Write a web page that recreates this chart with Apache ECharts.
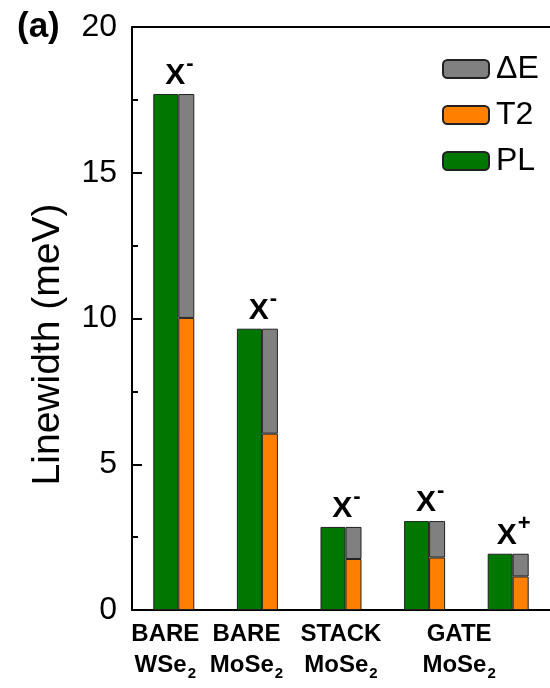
<!DOCTYPE html>
<html><head><meta charset="utf-8">
<script src="https://cdn.jsdelivr.net/npm/echarts@6/dist/echarts.min.js"></script>
<style>html,body{margin:0;padding:0;background:#fff}#c{width:550px;height:688px}</style>
</head><body><div id="c"></div>
<script>
// ---- data ----
const categories = ['BARE WSe2', 'BARE MoSe2', 'STACK MoSe2', 'GATE MoSe2 X-', 'GATE MoSe2 X+'];
const labelTop = ['BARE', 'BARE', 'STACK', 'GATE', ''];
const labelBase = ['WSe', 'MoSe', 'MoSe', 'MoSe', ''];
const labelSub = ['2', '2', '2', '2', ''];
const plValues = [17.7, 9.65, 2.85, 3.05, 1.93];
const t2Values = [10.02, 6.05, 1.75, 1.8, 1.15];
const deltaEValues = [7.68, 3.6, 1.1, 1.25, 0.78];
const chargeSigns = ['-', '-', '-', '-', '+'];
const yTickValues = [0, 5, 10, 15, 20];
const legendOrder = ['\u0394E', 'T2', 'PL'];

// ---- styles ----
const FONT = '"Liberation Sans", Arial, sans-serif';
const labelPads = [[0, 17, 0, 0], [0, 22, 0, 0], [0, 0, 0, 0], [0, 0, 0, 69], [0, 0, 0, 0]];
const chart = echarts.init(document.getElementById('c'), null, {renderer: 'canvas'});
const border = {borderColor: '#222', borderWidth: 1};
const yMin = yTickValues[0], yMax = yTickValues[yTickValues.length - 1];
const tickLine = {color: '#000', width: 2};
const hiddenX = {type: 'value', min: 0, max: 1, show: false};

chart.setOption({
  animation: false,
  backgroundColor: '#fff',
  textStyle: {fontFamily: FONT},
  title: {text: '(a)', left: 12, top: 5,
    textStyle: {fontFamily: FONT, fontSize: 35, fontWeight: 'bold', color: '#000'}},
  legend: {
    data: legendOrder, orient: 'vertical', left: 437, top: 48,
    itemWidth: 46, itemHeight: 18, itemGap: 14,
    textStyle: {fontFamily: FONT, fontSize: 32, color: '#000', padding: [0, 0, 0, 2]}
  },
  grid: [
    {left: 132, right: -7, top: 27, bottom: 78},
    // narrow strips along the left axis: their split lines act as inward ticks
    {left: 132, width: 10, top: 27, bottom: 78},
    {left: 132, width: 6, top: 27, bottom: 78}
  ],
  xAxis: [{
    type: 'category', gridIndex: 0,
    data: categories.map((c, i) => ({value: c, textStyle: {padding: labelPads[i]}})),
    axisLine: {lineStyle: {color: '#000', width: 2}},
    axisTick: {show: false},
    axisLabel: {
      interval: 0, margin: 9,
      formatter: (v, i) => labelTop[i] ? `{t|${labelTop[i]}}\n{b|${labelBase[i]}}{s|${labelSub[i]}}` : '',
      rich: {
        t: {fontFamily: FONT, fontSize: 24, fontWeight: 'bold', color: '#000', lineHeight: 31},
        b: {fontFamily: FONT, fontSize: 24, fontWeight: 'bold', color: '#000', lineHeight: 31},
        s: {fontFamily: FONT, fontSize: 15, fontWeight: 'bold', color: '#000', lineHeight: 31, verticalAlign: 'bottom', padding: [10, 0, 0, 1]}
      }
    }
  }, {
    type: 'category', gridIndex: 0, position: 'top', data: categories,
    axisLine: {show: true, lineStyle: {color: '#000', width: 2}},
    axisTick: {show: false}, axisLabel: {show: false}, splitLine: {show: false}
  },
  Object.assign({gridIndex: 1}, hiddenX),
  Object.assign({gridIndex: 2}, hiddenX)],
  yAxis: [{
    type: 'value', gridIndex: 0, min: yMin, max: yMax, interval: 5,
    name: 'Linewidth (meV)', nameLocation: 'middle', nameGap: 64, nameRotate: 90,
    nameTextStyle: {fontFamily: FONT, fontSize: 39, color: '#000', padding: [0, 52, 0, 0]},
    axisLine: {show: true, lineStyle: {color: '#000', width: 2}},
    axisTick: {show: true, inside: true, length: 10, lineStyle: tickLine},
    minorTick: {show: false},
    splitLine: {show: false},
    axisLabel: {fontFamily: FONT, fontSize: 32, color: '#000', margin: 15}
  }, {
    type: 'value', gridIndex: 1, min: yMin, max: yMax, interval: 5,
    axisLine: {show: false}, axisTick: {show: false}, axisLabel: {show: false},
    splitLine: {show: true, lineStyle: tickLine}
  }, {
    type: 'value', gridIndex: 2, min: yMin, max: yMax, interval: 2.5,
    axisLine: {show: false}, axisTick: {show: false}, axisLabel: {show: false},
    splitLine: {show: true, lineStyle: tickLine}
  }],
  series: [
    {name: 'PL', type: 'bar', data: plValues, barWidth: 25, barGap: '0%',
      itemStyle: Object.assign({color: '#007800'}, border)},
    {name: 'T2', type: 'bar', stack: 'tot', data: t2Values, barWidth: 16, barGap: '0%',
      itemStyle: Object.assign({color: '#ff8000'}, border)},
    {name: '\u0394E', type: 'bar', stack: 'tot', data: deltaEValues, barWidth: 16, barGap: '0%',
      itemStyle: Object.assign({color: '#808080'}, border),
      label: {
        show: true, position: 'top', distance: 3, offset: [-7, 0],
        formatter: p => `{x|X}{s|${chargeSigns[p.dataIndex]}}`,
        rich: {
          x: {fontFamily: FONT, fontSize: 30, fontWeight: 'bold', color: '#000', lineHeight: 30, verticalAlign: 'bottom'},
          s: {fontFamily: FONT, fontSize: 22, fontWeight: 'bold', color: '#000', verticalAlign: 'bottom', padding: [0, 0, 16, 1]}
        }
      }}
  ]
});
</script></body></html>
